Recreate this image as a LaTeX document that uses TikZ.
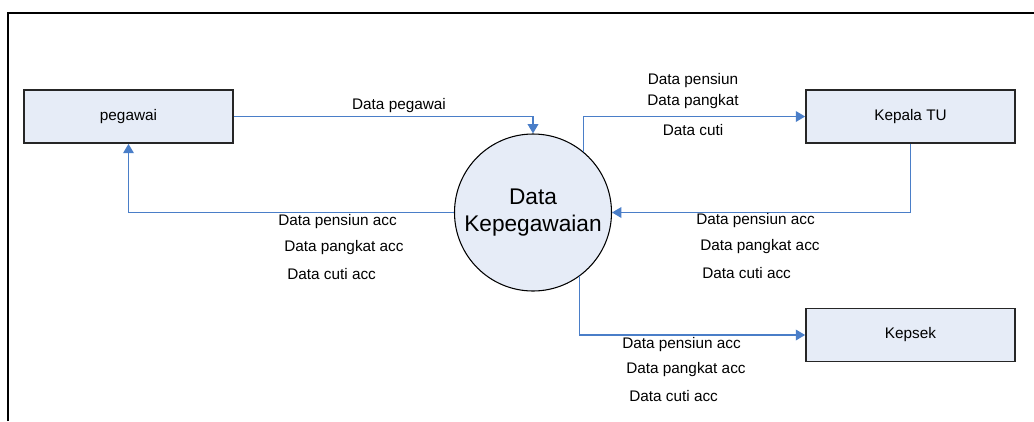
\documentclass[tikz,border=0pt]{standalone}
\usepackage{fontspec}
\setmainfont{Liberation Sans}
\usetikzlibrary{arrows.meta}
\definecolor{flowblue}{HTML}{4A7EC8}
\definecolor{boxfill}{HTML}{E6ECF7}
\begin{document}
\begin{tikzpicture}[x=0.75pt,y=-0.75pt,
  entity/.style={draw=black!85,line width=1.3pt,fill=boxfill,minimum width=156.75pt,minimum height=39.75pt,inner sep=0pt,font=\fontsize{11.5}{13}\selectfont},
  process/.style={circle,draw=black,line width=0.8pt,fill=boxfill,minimum size=117.75pt,inner sep=0pt,align=center,font=\fontsize{17}{20.5}\selectfont},
  flow/.style={draw=flowblue,line width=1pt,-{Triangle[length=7pt,width=8pt]}},
  lbl/.style={inner sep=0pt,font=\fontsize{11.5}{13}\selectfont}]
\useasboundingbox (0,0) rectangle (1034,421);
% outer frame (top and left sides)
\draw[line width=2pt] (8,421) -- (8,13) -- (1034,13);

% external entities and the process
\node[entity] (peg) at (128.5,116.5) {pegawai};
\node[entity] (ktu) at (910.5,116.5) {Kepala TU};
\node[entity] (kps) at (910.5,335) {Kepsek};
\node[process] (dk) at (533,212.5) {Data\\Kepegawaian};

% data flows
\draw[flow] (peg.east) -| (dk.north);
\draw[flow] (dk.west) -| (peg.south);
\draw[flow] (dk.50) |- (ktu.west);
\draw[flow] (ktu.south) |- (dk.east);
\draw[flow] (dk.-54) |- (kps.west);

% flow labels
\node[lbl] (l1) at (399,106) {Data pegawai};

\node[lbl] (t1) at (693,81) {Data pensiun};
\node[lbl] (t2) at (693,102) {Data pangkat};
\node[lbl] (t3) at (693,130) {Data cuti};

\node[lbl,anchor=west] (a1) at (278,222) {Data pensiun acc};
\node[lbl,anchor=west] (a2) at (284,248) {Data pangkat acc};
\node[lbl,anchor=west] (a3) at (287,274) {Data cuti acc};

\node[lbl,anchor=west] (b1) at (696,221) {Data pensiun acc};
\node[lbl,anchor=west] (b2) at (700,247) {Data pangkat acc};
\node[lbl,anchor=west] (b3) at (702,273) {Data cuti acc};

\node[lbl,anchor=west] (c1) at (622,345) {Data pensiun acc};
\node[lbl,anchor=west] (c2) at (626,370) {Data pangkat acc};
\node[lbl,anchor=west] (c3) at (629,396) {Data cuti acc};
\end{tikzpicture}
\end{document}
